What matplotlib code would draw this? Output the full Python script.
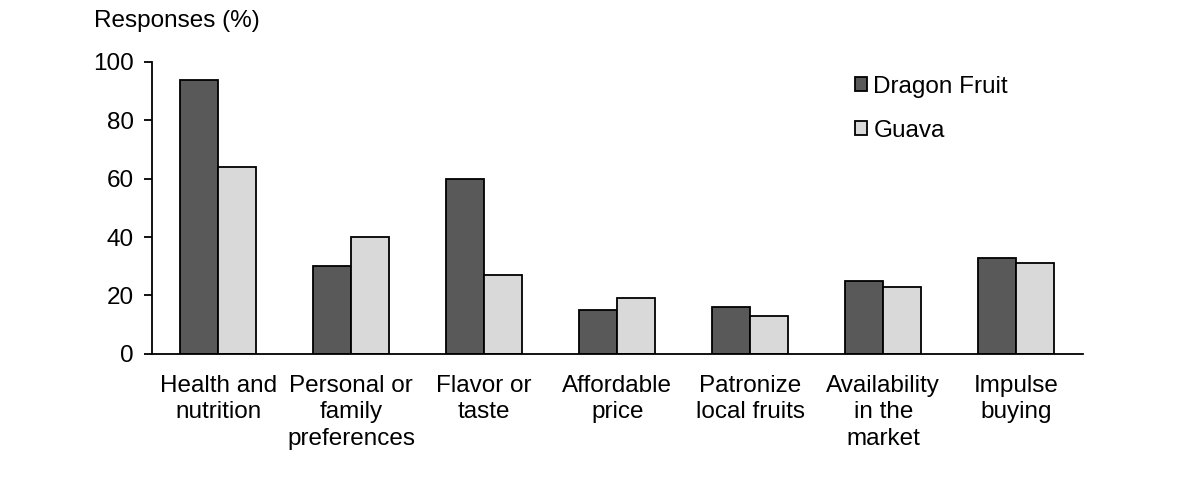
import numpy as np
import matplotlib.pyplot as plt

plt.rcParams['font.family'] = ['Liberation Sans', 'DejaVu Sans']

categories = ["Health and\nnutrition", "Personal or\nfamily\npreferences", "Flavor or\ntaste",
              "Affordable\nprice", "Patronize\nlocal fruits", "Availability\nin the\nmarket",
              "Impulse\nbuying"]
dragon_fruit = [94, 30, 60, 15, 16, 25, 33]
guava = [64, 40, 27, 19, 13, 23, 31]

x = np.arange(len(categories))
width = 0.286
fs = 17.5

fig = plt.figure(figsize=(11.95, 5.04), dpi=100)
ax = fig.add_axes([0.127, 0.298, 0.779, 0.579])

ax.bar(x - width / 2, dragon_fruit, width, color='#595959', edgecolor='black', linewidth=1.3, label='Dragon Fruit')
ax.bar(x + width / 2, guava, width, color='#d9d9d9', edgecolor='black', linewidth=1.3, label='Guava')

ax.set_xlim(-0.5, len(categories) - 0.5)
ax.set_ylim(0, 100)
ax.set_yticks([0, 20, 40, 60, 80, 100])
ax.set_xticks(x)
ax.set_xticklabels(categories, fontsize=fs, linespacing=1.28)
ax.tick_params(axis='x', length=0, pad=15)
ax.tick_params(axis='y', labelsize=fs, length=6, width=1.3, direction='out', pad=7)

for side in ['top', 'right']:
    ax.spines[side].set_visible(False)
ax.spines['left'].set_linewidth(1.3)
ax.spines['bottom'].set_linewidth(1.3)

fig.text(0.079, 0.958, "Responses (%)", fontsize=fs, va='center', ha='left')

ax.legend(loc='upper left', bbox_to_anchor=(0.732, 1.028), frameon=False, fontsize=fs,
          handlelength=0.5, handleheight=0.5, handletextpad=0.25, labelspacing=0.9)

plt.savefig("out.png", dpi=100)
